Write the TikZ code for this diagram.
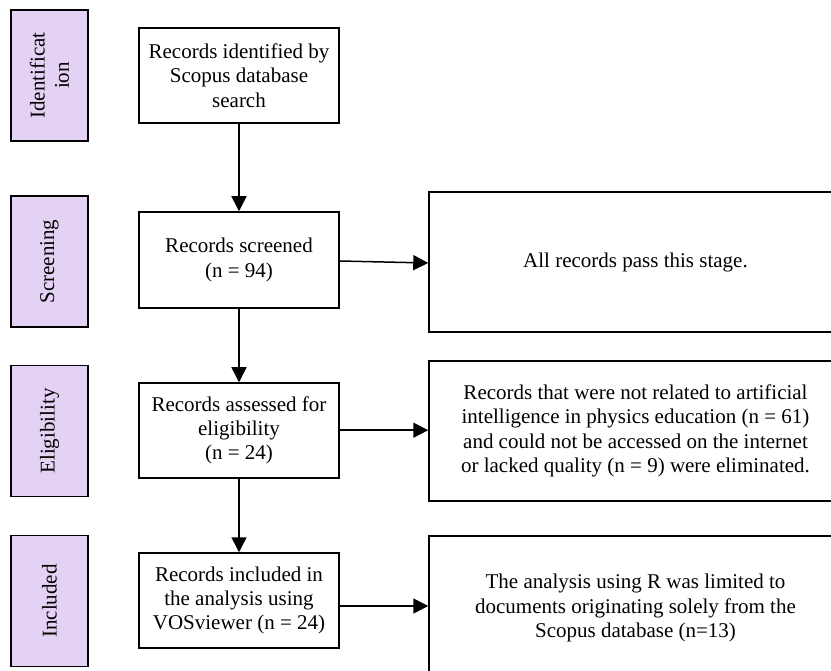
\documentclass[tikz,border=0pt]{standalone}
\usepackage{fontspec}
\setmainfont{Liberation Serif}
\usetikzlibrary{arrows.meta}
\definecolor{stagefill}{HTML}{E4D2F4}
\tikzset{
  every node/.style={font=\fontsize{21}{24.3}\selectfont, align=center, inner sep=0pt},
  stage/.style={draw, line width=1.5pt, fill=stagefill, rotate=90, minimum width=131pt, minimum height=77pt},
  rec/.style={draw, line width=1.5pt, minimum width=200pt, minimum height=95pt},
  side/.style={draw, line width=1.5pt, minimum width=413pt, minimum height=140pt},
  arr/.style={line width=1.5pt, -{Triangle[length=15pt,width=15pt]}}
}
\begin{document}
\begin{tikzpicture}[x=1pt,y=-1pt]
\useasboundingbox (0,0) rectangle (831,671);
\clip (0,0) rectangle (831,671);
% Stage labels
\node[stage] (sid) at (49.5,75.5) {Identificat\\ion};
\node[stage] (sscr) at (49.5,261.5) {Screening};
\node[stage] (selig) at (49.5,431) {Eligibility};
\node[stage] (sinc) at (49.5,601) {Included};

% Main records
\node[rec] (ident) at (239,75.5) {Records identified by\\Scopus database\\search};
\node[rec, minimum height=96pt] (screen) at (239,260) {Records screened\\(n = 94)};
\node[rec] (assess) at (239,430.5) {Records assessed for\\eligibility\\(n = 24)};
\node[rec] (incl) at (239,600.5) {Records included in\\the analysis using\\VOSviewer (n = 24)};

% Side notes
\node[side] (pass) at (635.5,262) {All records pass this stage.};
\node[side] (excl) at (635.5,431) {Records that were not related to artificial\\intelligence in physics education (n = 61)\\and could not be accessed on the internet\\or lacked quality (n = 9) were eliminated.};
\node[side, minimum height=144pt] (rnote) at (635.5,608) {The analysis using R was limited to\\documents originating solely from the\\Scopus database (n=13)};

% Arrows
\draw[arr] (ident) -- (screen);
\draw[arr] (screen) -- (assess);
\draw[arr] (assess) -- (incl);
\draw[arr] ([yshift=-1pt]screen.east) -- ([yshift=-3pt]screen.east -| pass.west);
\draw[arr] ([yshift=0.3pt]assess.east) -- ([yshift=0.3pt]assess.east -| excl.west);
\draw[arr] ([yshift=-5.5pt]incl.east) -- ([yshift=-5.5pt]incl.east -| rnote.west);
\end{tikzpicture}
\end{document}
